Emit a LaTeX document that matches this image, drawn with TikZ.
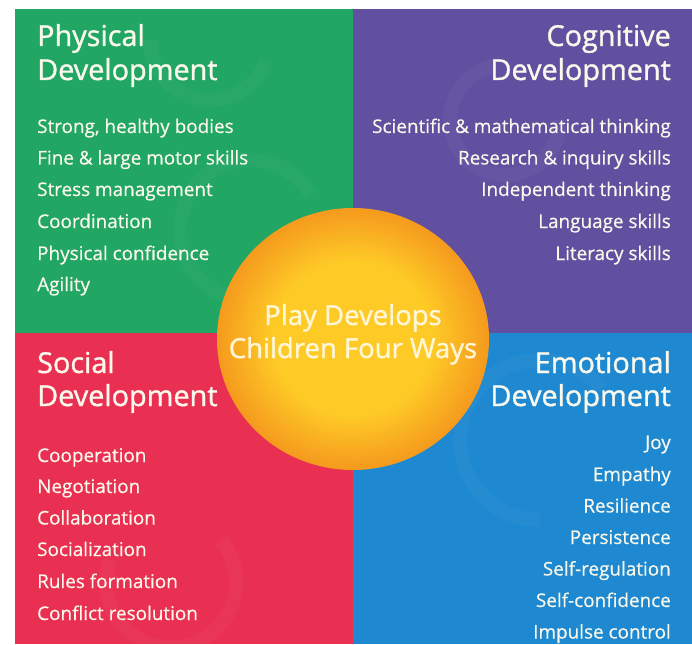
\documentclass[tikz,border=0pt]{standalone}
\usepackage{fontspec}
\setmainfont{Open Sans}
\newfontfamily\titlefont[FakeBold=1.2]{Open Sans}
\newfontfamily\itemfont[FakeBold=0.5]{Open Sans}
\definecolor{pgreen}{RGB}{33,166,100}
\definecolor{ppurple}{RGB}{97,80,160}
\definecolor{pred}{RGB}{233,48,82}
\definecolor{pblue}{RGB}{30,137,208}
\definecolor{sunin}{RGB}{254,202,38}
\definecolor{sunout}{RGB}{245,155,30}
\definecolor{txt}{RGB}{250,248,236}
\definecolor{suntxt}{RGB}{255,246,214}
\begin{document}
\begin{tikzpicture}[x=1pt,y=-1pt,
  title/.style={font=\titlefont\fontsize{28.8}{33}\selectfont, text=txt, inner sep=0pt},
  item/.style={font=\itemfont\fontsize{18.9}{22}\selectfont, text=txt, inner sep=0pt},
  suntext/.style={font=\titlefont\fontsize{27.5}{33}\selectfont, text=suntxt, inner sep=0pt, align=center}]
\useasboundingbox (0,0) rectangle (692,644);
\fill[white] (0,0) rectangle (692,644);
% quadrants
\fill[pgreen]  (15,9)   rectangle (353,333);
\fill[ppurple] (353,9)  rectangle (692,333);
\fill[pred]    (15,333) rectangle (353,644);
\fill[pblue]   (353,333) rectangle (692,644);
% faint swirls
\begin{scope}[white, opacity=0.03, line width=14pt]
  \draw (150,40) arc[start angle=180, end angle=20, radius=60];
  \draw (250,300) arc[start angle=90, end angle=330, radius=70];
  \draw (560,120) arc[start angle=0, end angle=260, radius=55];
  \draw (110,560) arc[start angle=200, end angle=-40, radius=65];
  \draw (540,520) arc[start angle=90, end angle=320, radius=80];
\end{scope}
% sun: radial gradient built from stacked ellipses
\fill[sunout] (353,339) ellipse [x radius=136, y radius=131];
\foreach \k in {1,...,30}{
  \pgfmathsetmacro{\f}{1-\k/30*0.6}
  \pgfmathsetmacro{\p}{min(100,\k/30*150)}
  \fill[sunin!\p!sunout] (353,339) ellipse [x radius={136*\f}, y radius={131*\f}];
}
\node[suntext, anchor=base] (sun1) at (353,325) {Play Develops};
\node[suntext, anchor=base] (sun2) at (353,358) {Children Four Ways};
% Physical
\node[title, anchor=base west] (pt1) at (37,46) {Physical};
\node[title, anchor=base west] (pt2) at (37,80) {Development};
\node[item, anchor=base west] at (37,133) {Strong, healthy bodies};
\node[item, anchor=base west] at (37,164.5) {Fine \& large motor skills};
\node[item, anchor=base west] at (37,196) {Stress management};
\node[item, anchor=base west] at (37,228) {Coordination};
\node[item, anchor=base west] at (37,260) {Physical confidence};
\node[item, anchor=base west] at (37,291) {Agility};
% Cognitive
\node[title, anchor=base east] (ct1) at (671,46) {Cognitive};
\node[title, anchor=base east] (ct2) at (671,80) {Development};
\node[item, anchor=base east] at (671,133) {Scientific \& mathematical thinking};
\node[item, anchor=base east] at (671,164.5) {Research \& inquiry skills};
\node[item, anchor=base east] at (671,196) {Independent thinking};
\node[item, anchor=base east] at (671,228) {Language skills};
\node[item, anchor=base east] at (671,260) {Literacy skills};
% Social
\node[title, anchor=base west] (st1) at (37,373) {Social};
\node[title, anchor=base west] (st2) at (37,406) {Development};
\node[item, anchor=base west] at (37,462) {Cooperation};
\node[item, anchor=base west] at (37,493) {Negotiation};
\node[item, anchor=base west] at (37,524.5) {Collaboration};
\node[item, anchor=base west] at (37,556) {Socialization};
\node[item, anchor=base west] at (37,588) {Rules formation};
\node[item, anchor=base west] at (37,620) {Conflict resolution};
% Emotional
\node[title, anchor=base east] (et1) at (671,373) {Emotional};
\node[title, anchor=base east] (et2) at (671,406) {Development};
\node[item, anchor=base east] at (671,449) {Joy};
\node[item, anchor=base east] at (671,481) {Empathy};
\node[item, anchor=base east] at (671,512.5) {Resilience};
\node[item, anchor=base east] at (671,544) {Persistence};
\node[item, anchor=base east] at (671,575.5) {Self-regulation};
\node[item, anchor=base east] at (671,607) {Self-confidence};
\node[item, anchor=base east] at (671,638.5) {Impulse control};
\end{tikzpicture}
\end{document}
